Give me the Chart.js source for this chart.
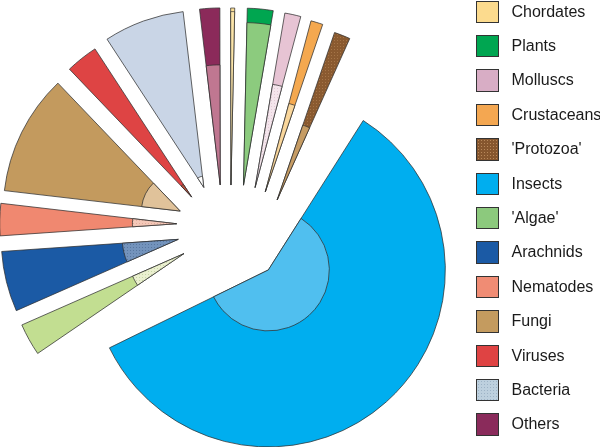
<!DOCTYPE html>
<html>
<head>
<meta charset="utf-8">
<script src="https://cdn.jsdelivr.net/npm/chart.js@4/dist/chart.umd.min.js"></script>
<style>
  html, body { margin: 0; padding: 0; background: #fff; }
  #wrap { position: relative; width: 600px; height: 447px; overflow: hidden; }
  #wrap canvas { position: absolute; left: 0; top: 0; }
  #legend { position: absolute; left: 476px; top: 0; width: 124px; height: 447px;
            font-family: "Liberation Sans", Arial, Helvetica, sans-serif; font-size: 16px; color: #1a1a1a; }
  .item { position: absolute; left: 0; height: 22.5px; display: flex; align-items: center; white-space: nowrap; }
  .sw { width: 22.5px; height: 22.5px; box-sizing: border-box; border: 1px solid #333; flex: none; }
  .lb { margin-left: 13px; line-height: 22.5px; }
</style>
</head>
<body>
<div id="wrap">
  <canvas id="c"></canvas>
  <div id="legend"></div>
</div>
<script>
// ---- data (thousands of species) ----
const categories = ['Chordates', 'Plants', 'Molluscs', 'Crustaceans', "'Protozoa'", 'Insects',
                    "'Algae'", 'Arachnids', 'Nematodes', 'Fungi', 'Viruses', 'Bacteria', 'Others'];
const estimatedSpecies = [50, 320, 200, 150, 200, 8000, 400, 750, 400, 1500, 400, 1000, 250];
const describedSpecies = [48, 270, 70, 40, 40, 950, 40, 75, 25, 72, 3, 4, 115];

// ---- styles ----
function dots(bg, dot, size) {
  const c = document.createElement('canvas');
  c.width = c.height = size;
  const x = c.getContext('2d');
  x.fillStyle = bg; x.fillRect(0, 0, size, size);
  x.fillStyle = dot; x.fillRect(1, 1, 1, 1);
  return x.createPattern(c, 'repeat');
}
const outerColors = ['#FADE96', '#00A650', '#E7C4D4', '#F4A84F', dots('#8A5A30', '#A57548', 3), '#00AEEF',
                     '#C2DE91', '#1B5AA5', '#F08870', '#C39A5E', '#DE4444', '#C9D5E6', '#8B2A5A'];
const innerColors = ['#FBE4A8', '#8CCB7E', dots('#F4E5EC', '#E3CAD6', 3), '#F9D69B', '#C69C64', '#50BFEF',
                     dots('#EBF0D0', '#C6D6A6', 3), dots('#7393BC', '#5877A0', 3), dots('#F4C8B8', '#E0AC9C', 3),
                     '#E0C29A', '#B5533F', '#FFFFFF', '#C07791'];
const legendColors = ['#FCDB8E', '#00A651', '#D8ADC5', '#F4A751',
  'radial-gradient(circle, #B8885A 0.7px, transparent 0.9px) 0 0/3px 3px, #86562E', '#00AEEF',
  '#8CC97D', '#1B5AA5', '#F08C74', '#C49B5F', '#DF4343',
  'radial-gradient(circle, #9DB3C6 0.7px, transparent 0.9px) 0 0/3px 3px, #BDD0DE', '#8A2B5B'];
// explode offsets (px): along the slice mid-angle, and sideways; extra rotation (deg)
const explodeRadial = [47, 48, 49, 49, 47.5, 54.5, 50, 51, 52.5, 53, 50.5, 50.5, 47.5];
const explodeShift  = [1.5, 10, 16, 23, 33, -4, 3, 5, 7, -3, -7.5, -8.5, -6];
const sliceRotation = [0, 0, 0, 0, 0, 8.2, 0, 0, 0, 0, 0, 0, 0];

const totalEstimated = estimatedSpecies.reduce((a, b) => a + b, 0);
const sliceAngles = estimatedSpecies.map(v => v / totalEstimated * 360);
// radius ~ sqrt so that inner area share = described / estimated
const innerRadius = describedSpecies.map((d, i) => Math.sqrt(d / estimatedSpecies[i]));
const outerRadius = estimatedSpecies.map(() => 1);

const explodePlugin = {
  id: 'explode',
  afterDatasetsUpdate(chart) {
    chart.data.datasets.forEach((ds, di) => {
      chart.getDatasetMeta(di).data.forEach((arc, i) => {
        const rot = sliceRotation[i] * Math.PI / 180;
        const s = arc.startAngle + rot, e = arc.endAngle + rot;
        const m = (s + e) / 2;
        const r = explodeRadial[i], t = explodeShift[i];
        arc.x += Math.cos(m) * r - Math.sin(m) * t;
        arc.y += Math.sin(m) * r + Math.cos(m) * t;
        arc.startAngle = s;
        arc.endAngle = e;
      });
    });
  }
};

new Chart(document.getElementById('c'), {
  type: 'polarArea',
  data: {
    labels: categories,
    datasets: [
      { label: 'Described', data: innerRadius, angle: sliceAngles, backgroundColor: innerColors,
        borderColor: '#303030', borderWidth: 0.75, clip: false },
      { label: 'Estimated', data: outerRadius, angle: sliceAngles, backgroundColor: outerColors,
        borderColor: '#303030', borderWidth: 0.75, clip: false }
    ]
  },
  options: {
    responsive: true,
    maintainAspectRatio: false,
    animation: false,
    events: [],
    layout: { padding: { left: 52, top: 55, right: 194, bottom: 38 } },
    scales: { r: { display: false, min: 0, max: 1, startAngle: -0.1 } },
    plugins: { legend: { display: false }, tooltip: { enabled: false } }
  },
  plugins: [explodePlugin]
});

const leg = document.getElementById('legend');
categories.forEach((name, i) => {
  const it = document.createElement('div');
  it.className = 'item';
  it.style.top = (0.6 + i * 34.39) + 'px';
  const sw = document.createElement('div');
  sw.className = 'sw';
  sw.style.background = legendColors[i];
  const lb = document.createElement('span');
  lb.className = 'lb';
  lb.textContent = name;
  it.appendChild(sw); it.appendChild(lb);
  leg.appendChild(it);
});
</script>
</body>
</html>
